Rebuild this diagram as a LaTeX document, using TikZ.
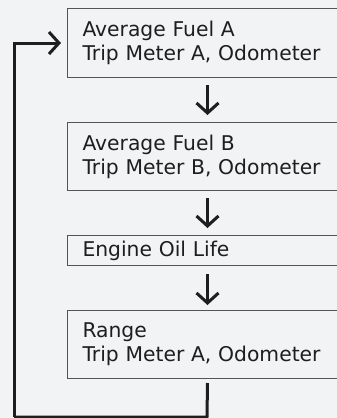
\documentclass[tikz,border=0pt]{standalone}
\usepackage{fontspec}
\setmainfont{DejaVu Sans}
\usetikzlibrary{arrows.meta}

\definecolor{pagebg}{HTML}{F2F3F5}
\definecolor{boxline}{HTML}{555555}
\definecolor{flowcol}{HTML}{1E1E1E}

\tikzset{
  infobox/.style={draw=boxline, line width=1pt, fill=pagebg, anchor=north west,
    minimum width=280pt, text width=250pt, inner xsep=15pt, inner ysep=0pt,
    align=left, font=\fontsize{20.3pt}{24pt}\selectfont, text=flowcol},
  flowline/.style={draw=flowcol, line width=3pt, line join=miter,
    -{Straight Barb[length=10pt,width=22pt,line width=3pt]}},
  loopline/.style={draw=flowcol, line width=3pt, line join=miter}
}

\begin{document}
\begin{tikzpicture}[x=1pt,y=1pt]
\fill[pagebg] (0,0) rectangle (337,-418);
\useasboundingbox (0,0) rectangle (337,-418);
\clip (0,0) rectangle (337,-418);

\node[infobox, minimum height=69pt] (fuelA) at (67,-8) {Average Fuel A\\Trip Meter A, Odometer};
\node[infobox, minimum height=68pt] (fuelB) at (67,-122) {Average Fuel B\\Trip Meter B, Odometer};
\node[infobox, minimum height=30pt] (oil) at (67,-235) {Engine Oil Life};
\node[infobox, minimum height=68pt] (range) at (67,-310) {Range\\Trip Meter A, Odometer};

% steps down
\draw[flowline, shorten <=7pt, shorten >=7pt] (fuelA.south) -- (fuelB.north);
\draw[flowline, shorten <=7pt, shorten >=7pt] (fuelB.south) -- (oil.north);
\draw[flowline, shorten <=8pt, shorten >=5pt] (oil.south) -- (range.north);

% back to the top
\coordinate (loopR) at (207,-417);
\coordinate (loopL) at (14,-417);
\draw[loopline] ([yshift=-4pt]range.south) -- (loopR) -- (loopL);
\draw[flowline, shorten >=6pt] (loopL) |- (fuelA.west);
\end{tikzpicture}
\end{document}
